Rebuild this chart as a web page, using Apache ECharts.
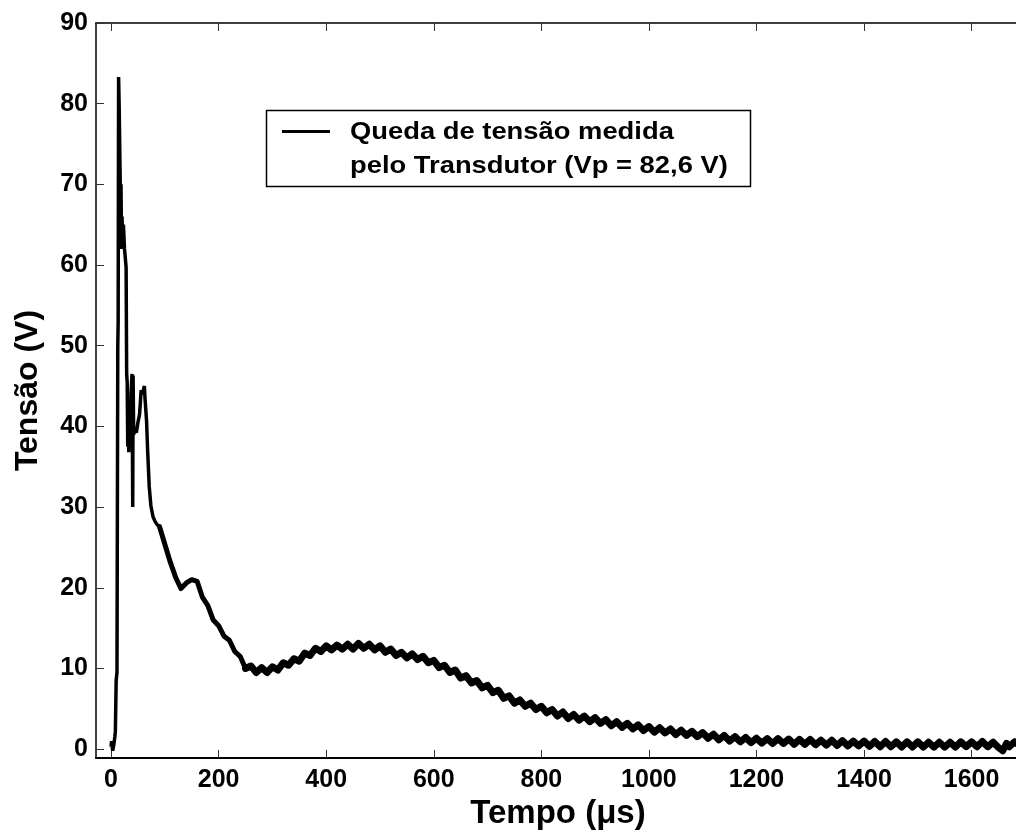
<!DOCTYPE html>
<html>
<head>
<meta charset="utf-8">
<script src="https://cdn.jsdelivr.net/npm/echarts@6/dist/echarts.min.js"></script>
<style>
html,body{margin:0;padding:0;background:#fff;}
#chart{width:1016px;height:834px;}
</style>
</head>
<body>
<div id="chart"></div>
<script>
// Tick labels
var xTicks = [0, 200, 400, 600, 800, 1000, 1200, 1400, 1600];
var yTicks = [0, 10, 20, 30, 40, 50, 60, 70, 80, 90];

// Legend text
var legendLine1 = 'Queda de tensão medida';
var legendLine2 = 'pelo Transdutor (Vp = 82,6 V)';

// Early part of the record (time in µs, voltage in V)
var earlyTime = [0, 1, 3, 5, 7, 8, 9.5, 11, 12.5, 13.2, 14, 15, 16.5, 17.5, 18.5, 19.5, 20.5, 21.5, 23, 25, 28, 29, 30, 31, 32, 33, 34, 36, 37, 39, 40.3, 41, 42, 45, 47, 50, 53, 56, 58, 62, 63, 66, 68, 71, 74, 78, 82, 86, 90];
var earlyVolt = [0.3, 1.0, -0.2, 0.5, 1.5, 2.2, 8.5, 9.5, 50, 53, 83.3, 80, 80, 68, 70, 62, 66, 62, 65, 62, 59.7, 46.5, 45.5, 37.5, 39, 36.8, 41, 38.5, 44, 46.5, 30.0, 46.3, 39, 39.5, 39.2, 40.5, 41.5, 44.5, 44, 45, 43.6, 40.7, 37, 32.5, 30.2, 28.8, 28.2, 27.8, 27.6];

// Middle part (time in µs, voltage in V)
var midTime = [90, 100, 110, 120, 130, 140, 150, 160, 170, 180, 190, 200, 210, 220, 230, 240, 250];
var midVolt = [27.6, 25.4, 23.2, 21.3, 19.9, 20.6, 21.0, 20.8, 18.8, 17.8, 16.0, 15.3, 14.0, 13.5, 12.1, 11.5, 10.0];

// Noisy tail of the record (time in µs, voltage in V)
var tailTime = [250, 260, 270, 280, 290, 300, 310, 320, 330, 340, 350, 360, 370, 380, 390, 400, 410, 420, 430, 440, 450, 460, 470, 480, 490, 500, 510, 520, 530, 540, 550, 560, 570, 580, 590, 600, 610, 620, 630, 640, 650, 660, 670, 680, 690, 700, 710, 720, 730, 740, 750, 760, 770, 780, 790, 800, 810, 820, 830, 840, 850, 860, 870, 880, 890, 900, 910, 920, 930, 940, 950, 960, 970, 980, 990, 1000, 1010, 1020, 1030, 1040, 1050, 1060, 1070, 1080, 1090, 1100, 1110, 1120, 1130, 1140, 1150, 1160, 1170, 1180, 1190, 1200, 1210, 1220, 1230, 1240, 1250, 1260, 1270, 1280, 1290, 1300, 1310, 1320, 1330, 1340, 1350, 1360, 1370, 1380, 1390, 1400, 1410, 1420, 1430, 1440, 1450, 1460, 1470, 1480, 1490, 1500, 1510, 1520, 1530, 1540, 1550, 1560, 1570, 1580, 1590, 1600, 1610, 1620, 1630, 1640, 1650, 1658, 1665, 1670, 1680, 1690];
var tailVolt = [10.0, 10.3, 9.5, 10.1, 9.5, 10.2, 9.8, 10.7, 10.4, 11.2, 10.9, 11.9, 11.6, 12.5, 12.1, 12.8, 12.3, 12.9, 12.4, 13.0, 12.4, 13.1, 12.5, 13.0, 12.3, 12.8, 12.0, 12.4, 11.6, 12.0, 11.3, 11.8, 11.1, 11.5, 10.7, 11.0, 10.1, 10.4, 9.5, 9.8, 8.8, 9.1, 8.2, 8.5, 7.6, 7.9, 7.0, 7.3, 6.3, 6.6, 5.7, 6.1, 5.3, 5.7, 4.9, 5.3, 4.5, 4.9, 4.1, 4.6, 3.8, 4.3, 3.6, 4.1, 3.4, 3.9, 3.2, 3.65, 2.9, 3.4, 2.7, 3.2, 2.5, 3.0, 2.3, 2.8, 2.1, 2.65, 2.0, 2.5, 1.8, 2.35, 1.7, 2.2, 1.55, 2.05, 1.35, 1.85, 1.15, 1.7, 1.0, 1.55, 0.9, 1.45, 0.8, 1.35, 0.75, 1.3, 0.7, 1.3, 0.7, 1.25, 0.6, 1.2, 0.6, 1.2, 0.55, 1.1, 0.5, 1.1, 0.45, 1.05, 0.4, 1.0, 0.4, 1.0, 0.35, 0.95, 0.3, 0.95, 0.3, 0.9, 0.25, 0.9, 0.25, 0.9, 0.25, 0.85, 0.25, 0.85, 0.25, 0.85, 0.25, 0.9, 0.3, 0.9, 0.3, 0.95, 0.3, 0.85, 0.2, -0.2, 0.7, 0.3, 0.9, 0.4];

function pairs(t, v) {
  var out = [];
  for (var i = 0; i < t.length; i++) out.push([t[i], v[i]]);
  return out;
}
function plain(v) { return String(v); }

var FONT = '"Liberation Sans", Arial, sans-serif';
var chart = echarts.init(document.getElementById('chart'), null, {renderer: 'canvas'});

var tickStyle = {color: '#333', width: 1};
var labelStyle = {fontSize: 25, fontWeight: 'bold', color: '#000', fontFamily: FONT, formatter: plain};

chart.setOption({
  animation: false,
  backgroundColor: '#fff',
  grid: {left: 96, top: 23, right: -4, bottom: 76, containLabel: false, outerBoundsMode: 'none'},
  xAxis: [{
    type: 'value', min: -28, max: 1690, position: 'bottom',
    axisLine: {show: true, onZero: false, lineStyle: {color: '#000', width: 2}},
    axisTick: {show: true, inside: true, length: 8, customValues: xTicks, lineStyle: tickStyle},
    axisLabel: Object.assign({customValues: xTicks, margin: 10}, labelStyle),
    splitLine: {show: false},
    name: 'Tempo (μs)', nameLocation: 'middle', nameGap: 36,
    nameTextStyle: {fontSize: 33, fontWeight: 'bold', color: '#000', fontFamily: FONT}
  }, {
    type: 'value', min: -28, max: 1690, position: 'top',
    axisLine: {show: true, onZero: false, lineStyle: {color: '#000', width: 1.5}},
    axisTick: {show: true, inside: true, length: 8, customValues: xTicks, lineStyle: tickStyle},
    axisLabel: {show: false},
    splitLine: {show: false}
  }],
  yAxis: [{
    type: 'value', min: -1.1, max: 90, position: 'left',
    axisLine: {show: true, onZero: false, lineStyle: {color: '#000', width: 1.5}},
    axisTick: {show: true, inside: true, length: 8, customValues: yTicks, lineStyle: tickStyle},
    axisLabel: Object.assign({customValues: yTicks, margin: 8}, labelStyle),
    splitLine: {show: false},
    name: 'Tensão (V)', nameLocation: 'middle', nameGap: 52, nameRotate: 90,
    nameTextStyle: {fontSize: 32, fontWeight: 'bold', color: '#000', fontFamily: FONT}
  }],
  series: [{
    type: 'line', name: legendLine1, xAxisIndex: 0, yAxisIndex: 0,
    data: pairs(earlyTime, earlyVolt),
    showSymbol: false, symbol: 'none',
    lineStyle: {color: '#000', width: 3.5}
  }, {
    type: 'line', name: 'mid', xAxisIndex: 0, yAxisIndex: 0,
    data: pairs(midTime, midVolt),
    showSymbol: false, symbol: 'none',
    lineStyle: {color: '#000', width: 5, join: 'round', cap: 'round'}
  }, {
    type: 'line', name: 'tail', xAxisIndex: 0, yAxisIndex: 0,
    data: pairs(tailTime, tailVolt),
    showSymbol: false, symbol: 'none',
    lineStyle: {color: '#000', width: 7, join: 'round', cap: 'round'}
  }],
  graphic: [
    {type: 'rect', z: 100, shape: {x: 266.5, y: 110.5, width: 484, height: 76},
     style: {fill: '#fff', stroke: '#000', lineWidth: 1.5}},
    {type: 'line', z: 101, shape: {x1: 282, y1: 131.5, x2: 330, y2: 131.5},
     style: {stroke: '#000', lineWidth: 3}},
    {type: 'text', z: 101, x: 350, y: 132, scaleX: 1.14,
     style: {text: legendLine1, font: 'bold 24px ' + FONT, fill: '#000', verticalAlign: 'middle', textAlign: 'left'}},
    {type: 'text', z: 101, x: 350, y: 166.5, scaleX: 1.14,
     style: {text: legendLine2, font: 'bold 24px ' + FONT, fill: '#000', verticalAlign: 'middle', textAlign: 'left'}}
  ]
});
</script>
</body>
</html>
